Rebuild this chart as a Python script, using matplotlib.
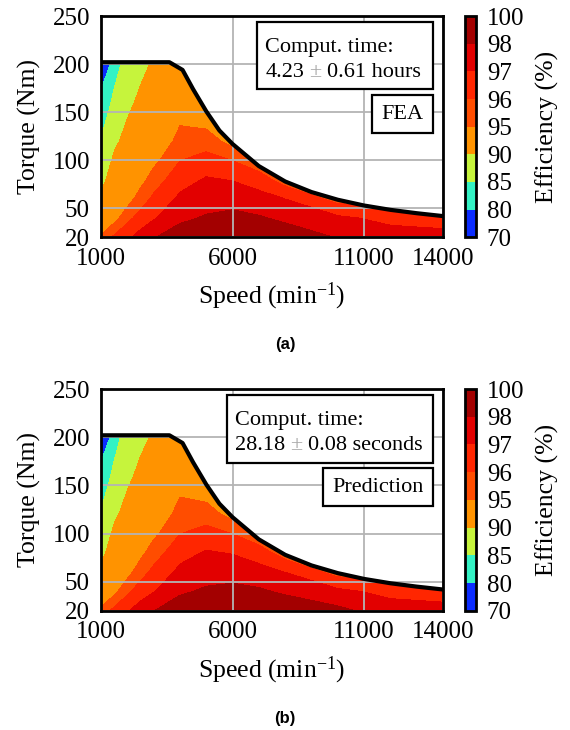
import matplotlib

matplotlib.use("Agg")
import matplotlib.pyplot as plt
import numpy as np
from matplotlib.patches import Rectangle

plt.rcParams["font.family"] = ["Liberation Serif", "DejaVu Serif"]
plt.rcParams["mathtext.fontset"] = "custom"
plt.rcParams["mathtext.rm"] = "Liberation Serif"
plt.rcParams["mathtext.it"] = "Liberation Serif:italic"

# efficiency map grid (rows = torque, columns = speed)
SPEED = [1000, 1500, 2000, 2500, 3000, 4000, 5000, 6000, 7000, 8000, 10000, 12000, 14000]
TORQUE = [20, 40, 60, 80, 100, 120, 140, 160, 180, 200, 210]

EFF_FEA = [
    [95.2, 96.2, 96.8, 97.4, 97.95, 98.5, 98.8, 98.9, 98.8, 98.6, 97.95, 97.5, 97.4],
    [93.0, 94.6, 95.7, 96.4, 96.9, 97.8, 98.1, 98.3, 98.1, 97.8, 97.2, 96.7, 96.5],
    [90.6, 93.3, 94.5, 95.5, 96.2, 97.2, 97.6, 97.6, 97.4, 96.99, 95.6, 95.5, 95.8],
    [88.8, 92.0, 93.4, 94.6, 95.5, 96.6, 97.1, 96.95, 96.5, 95.5, 94.5, 94.8, 95.0],
    [87.1, 90.7, 92.3, 93.6, 94.7, 95.98, 96.4, 95.98, 95.3, 93.5, 94.0, 94.0, 94.0],
    [85.4, 89.2, 91.2, 92.7, 93.9, 95.4, 95.5, 94.6, 94.5, 93.5, 93.5, 93.5, 93.5],
    [83.5, 87.7, 90.2, 91.8, 93.1, 94.9, 94.7, 94.2, 94.0, 93.0, 93.0, 93.0, 93.0],
    [81.5, 86.1, 89.0, 90.9, 92.3, 94.3, 94.1, 93.8, 93.5, 93.0, 93.0, 93.0, 93.0],
    [79.0, 84.6, 87.9, 89.9, 91.4, 93.6, 93.5, 93.4, 93.0, 93.0, 93.0, 93.0, 93.0],
    [72.0, 83.3, 86.7, 88.7, 90.6, 93.0, 93.0, 93.0, 93.0, 93.0, 93.0, 93.0, 93.0],
    [70.5, 82.6, 86.1, 88.1, 90.2, 92.7, 92.7, 92.7, 92.7, 92.7, 92.7, 92.7, 92.7],
]

EFF_PRED = [
    [95.4, 96.3, 96.9, 97.5, 97.98, 98.6, 98.9, 98.95, 98.9, 98.7, 98.25, 97.5, 97.4],
    [93.2, 94.7, 95.8, 96.5, 96.95, 97.85, 98.15, 98.3, 98.15, 97.85, 97.25, 96.7, 96.5],
    [90.8, 93.4, 94.6, 95.6, 96.25, 97.25, 97.6, 97.6, 97.4, 96.99, 95.6, 95.5, 95.8],
    [88.9, 92.1, 93.5, 94.7, 95.55, 96.65, 97.1, 96.95, 96.5, 95.5, 94.5, 94.8, 95.0],
    [87.2, 90.8, 92.4, 93.7, 94.75, 95.98, 96.4, 95.98, 95.3, 93.5, 94.0, 94.0, 94.0],
    [85.5, 89.3, 91.3, 92.8, 93.95, 95.45, 95.5, 94.6, 94.5, 93.5, 93.5, 93.5, 93.5],
    [83.6, 87.8, 90.3, 91.9, 93.1, 94.95, 94.7, 94.2, 94.0, 93.0, 93.0, 93.0, 93.0],
    [81.6, 86.2, 89.1, 91.0, 92.3, 94.3, 94.1, 93.8, 93.5, 93.0, 93.0, 93.0, 93.0],
    [79.2, 84.7, 88.0, 90.0, 91.4, 93.6, 93.5, 93.4, 93.0, 93.0, 93.0, 93.0, 93.0],
    [72.5, 83.4, 86.8, 88.8, 90.6, 93.0, 93.0, 93.0, 93.0, 93.0, 93.0, 93.0, 93.0],
    [71.0, 82.7, 86.2, 88.2, 90.2, 92.7, 92.7, 92.7, 92.7, 92.7, 92.7, 92.7, 92.7],
]

# maximum torque envelope
SPEED_ENV = [1000, 3600, 4100, 4500, 5000, 5500, 6000, 7000, 8000, 9000, 10000, 11000, 12000, 13000, 14000]
TORQUE_ENV = [202, 202, 194, 174, 151, 131, 117, 94, 78, 67, 59, 53, 48.5, 45, 42]

LEVELS = [70, 80, 85, 90, 95, 96, 97, 98, 100]
COLORS = ["#0B2CFF", "#33F2C4", "#C6F43C", "#FF9300", "#FF4D00", "#FF2600", "#E20000", "#A30000"]

X_TICKS = [1000, 6000, 11000, 14000]
Y_TICKS = [20, 50, 100, 150, 200, 250]

TIME_FEA = ["4.23", "0.61 hours"]
TIME_PRED = ["28.18", "0.08 seconds"]


def comput_box(ax, left, mean, rest):
    ax.add_patch(Rectangle((left, 0.668), 0.971 - left, 0.304, transform=ax.transAxes,
                           facecolor="white", edgecolor="black", lw=1.6, zorder=5))
    x0 = left + 0.024
    kw = dict(fontsize=16, zorder=6)
    ax.text(x0, 0.838, "Comput. time:", transform=ax.transAxes, va="baseline", **kw)
    t1 = ax.text(x0, 0.726, mean, transform=ax.transAxes, va="baseline", **kw)
    t2 = ax.annotate("\u00b1", xy=(1, 0), xycoords=t1, xytext=(4, 0), textcoords="offset points",
                     va="bottom", color="#A8A8A8", **kw)
    ax.annotate(rest, xy=(1, 0), xycoords=t2, xytext=(4, 0), textcoords="offset points",
                va="bottom", **kw)


def draw_panel(ax, cax, eff, box_left, time_vals, tag, panel_label):
    cs = ax.contourf(SPEED, TORQUE, np.array(eff), levels=LEVELS, colors=COLORS)
    ax.fill_between(SPEED_ENV, TORQUE_ENV, 250, color="white", lw=0, zorder=1.2)
    ax.plot(SPEED_ENV, TORQUE_ENV, color="black", lw=3, zorder=3, solid_joinstyle="round")

    ax.set_xlim(1000, 14000)
    ax.set_ylim(20, 250)
    ax.set_xticks(X_TICKS)
    ax.set_yticks(Y_TICKS)
    ax.tick_params(axis="both", length=0, labelsize=18)
    ax.tick_params(axis="y", pad=8)
    ax.tick_params(axis="x", pad=7.5)
    ax.grid(color="#B4B4B4", lw=1.3)
    for sp in ax.spines.values():
        sp.set_linewidth(2)
    ax.set_xlabel("Speed (min$^{-1}$)", fontsize=18.5, labelpad=8)
    ax.set_ylabel("Torque (Nm)", fontsize=18.5, labelpad=8)

    comput_box(ax, box_left, *time_vals)
    box = dict(boxstyle="square,pad=0.42", facecolor="white", edgecolor="black", lw=1.6)
    ax.text(0.944, 0.60, tag, transform=ax.transAxes, ha="right", va="top",
            fontsize=16, bbox=box, zorder=5)

    cb = plt.colorbar(cs, cax=cax, ticks=LEVELS)
    cb.outline.set_linewidth(2)
    cb.ax.tick_params(length=0, labelsize=18, pad=8)
    cb.set_label("Efficiency (%)", fontsize=18.5, labelpad=8)

    fig = ax.figure
    pos = ax.get_position()
    fig.text(0.5, pos.y0 - 0.147, panel_label, ha="center", va="center",
             fontsize=12, fontweight="bold", family="Liberation Sans")
    return cs


fig = plt.figure(figsize=(5.7, 7.3), dpi=100)
ax_a = fig.add_axes([0.1772, 0.675, 0.600, 0.303])
cax_a = fig.add_axes([0.8158, 0.675, 0.0188, 0.303])
ax_b = fig.add_axes([0.1772, 0.1634, 0.600, 0.3037])
cax_b = fig.add_axes([0.8158, 0.1634, 0.0188, 0.3037])

draw_panel(ax_a, cax_a, EFF_FEA, 0.456, TIME_FEA, "FEA", "(a)")
draw_panel(ax_b, cax_b, EFF_PRED, 0.367, TIME_PRED, "Prediction", "(b)")

fig.savefig("out.png", dpi=100)
